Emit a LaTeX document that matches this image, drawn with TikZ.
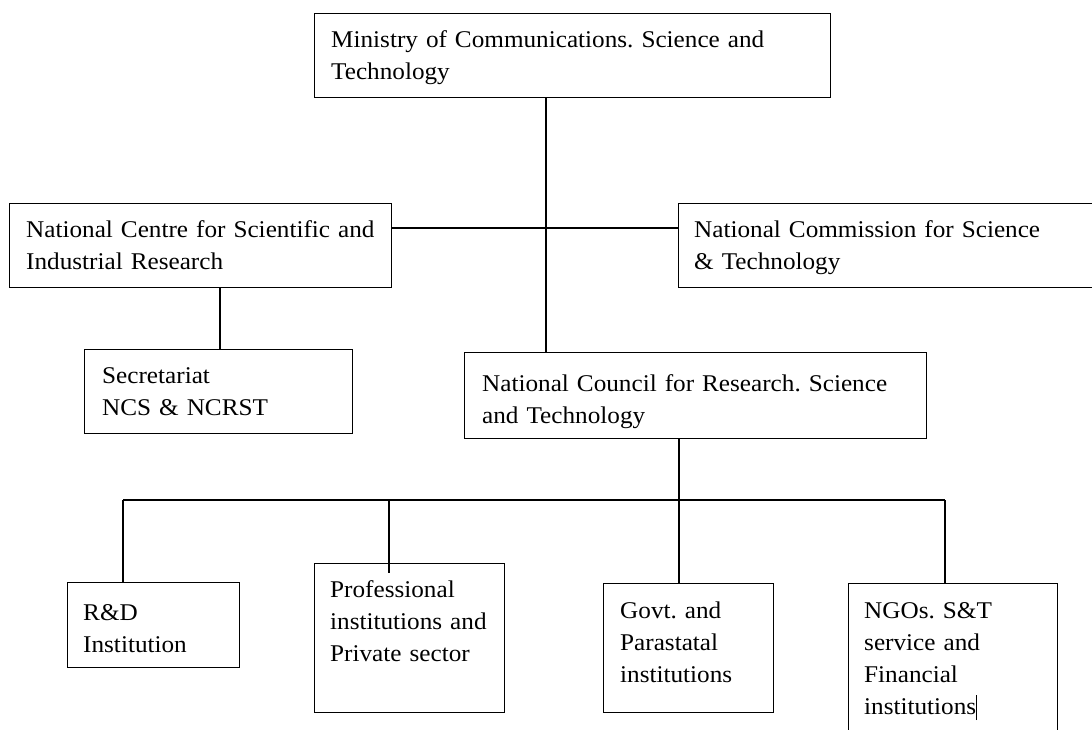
\documentclass[tikz,border=0pt]{standalone}
\usepackage{fontspec}
\setmainfont{Liberation Serif}[FakeStretch=1.05]
\frenchspacing
\begin{document}
\begin{tikzpicture}[x=1pt,y=-1pt,
  box/.style={draw, line width=1.1pt, rectangle, inner sep=0pt, anchor=north west},
  txt/.style={anchor=base west, inner sep=0pt, align=left, font=\fontsize{24}{32}\selectfont},
  link/.style={line width=1.1pt},
  bus/.style={line width=2.8pt}]
\path[use as bounding box, clip] (0,0) rectangle (1092,730);
\fill[white] (0,0) rectangle (1092,730);
% boxes
\node[box, minimum width=516pt, minimum height=84pt] (min) at (314,13) {};
\node[box, minimum width=382pt, minimum height=84pt] (ncsir) at (9,203) {};
\node[box, minimum width=430pt, minimum height=84pt] (ncst) at (678,203) {};
\node[box, minimum width=268pt, minimum height=84pt] (sec) at (84,349) {};
\node[box, minimum width=462pt, minimum height=86pt] (ncrst) at (464,352) {};
\node[box, minimum width=172pt, minimum height=85pt] (rd) at (67,582) {};
\node[box, minimum width=190pt, minimum height=149pt] (prof) at (314,563) {};
\node[box, minimum width=170pt, minimum height=129pt] (govt) at (603,583) {};
\node[box, minimum width=209pt, minimum height=180pt] (ngo) at (848,583) {};
% texts
\node[txt, text width=495pt] (minT) at (331,48) {Ministry of Communications. Science and\\Technology};
\node[txt, text width=365pt] (ncsirT) at (26,237) {National Centre for Scientific and\\Industrial Research};
\node[txt, text width=390pt] (ncstT) at (694,237) {National Commission for Science\\\&~Technology};
\node[txt, text width=245pt] (secT) at (102,383) {Secretariat\\NCS \& NCRST};
\node[txt, text width=440pt] (ncrstT) at (482,391) {National Council for Research. Science\\and Technology};
\node[txt, text width=150pt] (rdT) at (83,620) {R\&D\\Institution};
\node[txt, text width=172pt] (profT) at (330,597) {Professional\\institutions and\\Private sector};
\node[txt, text width=150pt] (govtT) at (620,618) {Govt. and\\Parastatal\\institutions};
\node[txt, text width=190pt] (ngoT) at (864,618) {NGOs. S\&T\\service and\\Financial\\institutions\rule[-0.25em]{0.9pt}{1.05em}};
% connectors
\coordinate (trunk) at (546,0);
\coordinate (mid) at (679,0);
\coordinate (busY) at (0,500);
\draw[link] (min.south -| trunk) -- (ncrst.north -| trunk);
\draw[link] (ncsir.east |- 0,228) -- (ncst.west |- 0,228);
\draw[link] (ncsir.south -| 220,0) -- (sec.north -| 220,0);
\draw[link] (ncrst.south -| mid) -- (busY -| mid);
\draw[bus] (busY -| 123,0) -- (busY -| 945,0);
\draw[link] (busY -| 123,0) -- (rd.north -| 123,0);
\draw[link] (busY -| 389,0) -- ([yshift=-10pt]prof.north -| 389,0);
\draw[link] (busY -| mid) -- (govt.north -| mid);
\draw[link] (busY -| 945,0) -- (ngo.north -| 945,0);
\end{tikzpicture}
\end{document}
